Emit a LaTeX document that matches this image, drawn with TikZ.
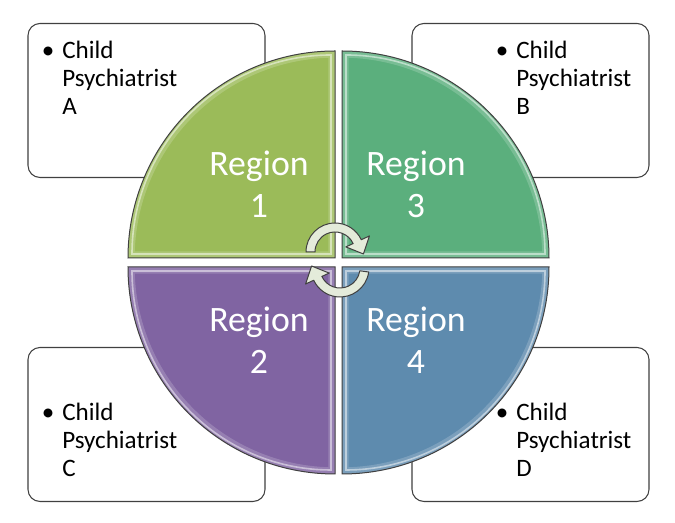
\documentclass[tikz,border=0pt]{standalone}
\usepackage{fontspec}
\setmainfont{Carlito}
\usetikzlibrary{calc}
\definecolor{colive}{HTML}{9BBB59}
\definecolor{cgreen}{HTML}{5BAF7D}
\definecolor{cpurple}{HTML}{8064A2}
\definecolor{cslate}{HTML}{5E8BAE}
\definecolor{cline}{HTML}{404040}
\definecolor{carrow}{HTML}{E4EBDA}

\begin{document}
\begin{tikzpicture}[x=0.75pt, y=0.75pt,
  infobox/.style={draw=cline, line width=0.8pt, fill=white, rounded corners=9pt,
    minimum width=177.75pt, minimum height=115.5pt, inner sep=0pt},
  itemtext/.style={anchor=west, align=left, inner sep=0pt, font=\fontsize{18.8}{21}\selectfont},
  regiontext/.style={align=center, text=white, inner sep=0pt, font=\fontsize{26.8}{31.5}\selectfont},
  cyclearrow/.style={draw=cline, line width=0.75pt, fill=carrow, line join=round}]
  \useasboundingbox (0,0) rectangle (675,523);
  \fill[white] (0,0) rectangle (675,523);

  % Boxes behind the circle
  \node[infobox] (boxA) at (146.5,422.5) {};
  \node[infobox] (boxB) at (530.5,422.5) {};
  \node[infobox] (boxC) at (146.5,98.5) {};
  \node[infobox] (boxD) at (530.5,98.5) {};

  % Quarters of the circle
  \foreach \cx/\cy/\a/\col in {335/265/90/colive, 342/265/0/cgreen, 335/256/180/cpurple, 342/256/270/cslate}{
    \fill[\col] (\cx,\cy) -- +(\a:207) arc[start angle=\a, end angle=\a+90, radius=207] -- cycle;
    \begin{scope}
      \clip (\cx,\cy) -- +(\a:207) arc[start angle=\a, end angle=\a+90, radius=207] -- cycle;
      \draw[white, opacity=0.18, line width=10pt] (\cx,\cy) -- +(\a:207) arc[start angle=\a, end angle=\a+90, radius=207] -- cycle;
    \end{scope}
    \draw[white, opacity=0.5, line width=1.2pt] ($(\cx,\cy)+(\a+45:5.66)$) -- +(\a:199) arc[start angle=\a, end angle=\a+90, radius=199] -- cycle;
    \draw[cline, line width=0.75pt] (\cx,\cy) -- +(\a:207) arc[start angle=\a, end angle=\a+90, radius=207] -- cycle;
  }

  % Labels
  \node[regiontext] (reg1) at (259,339) {Region\\1};
  \node[regiontext] (reg3) at (416,339) {Region\\3};
  \node[regiontext] (reg2) at (259,183) {Region\\2};
  \node[regiontext] (reg4) at (416,183) {Region\\4};

  \node[itemtext] (itemA) at (62,445) {\llap{\textbullet\hspace{6pt}}Child\\Psychiatrist\\A};
  \node[itemtext] (itemB) at (516,445) {\llap{\textbullet\hspace{6pt}}Child\\Psychiatrist\\B};
  \node[itemtext] (itemC) at (62,83) {\llap{\textbullet\hspace{6pt}}Child\\Psychiatrist\\C};
  \node[itemtext] (itemD) at (516,83) {\llap{\textbullet\hspace{6pt}}Child\\Psychiatrist\\D};

  % Cycle arrows in the middle
  \coordinate (topc) at (335,271);
  \coordinate (botc) at (340,255);
  \draw[cyclearrow] ([shift={(180:29)}]topc) arc[start angle=180, end angle=25, radius=29]
    -- ([shift={(25:38)}]topc) -- ([shift={(-4:28.5)}]topc) -- ([shift={(25:12)}]topc)
    -- ([shift={(25:20)}]topc) arc[start angle=25, end angle=180, radius=20] -- cycle;
  \draw[cyclearrow] ([shift={(-8:29)}]botc) arc[start angle=-8, end angle=-155, radius=29]
    -- ([shift={(-155:38)}]botc) -- ([shift={(176:28.5)}]botc) -- ([shift={(-155:12)}]botc)
    -- ([shift={(-155:20)}]botc) arc[start angle=-155, end angle=-8, radius=20] -- cycle;
\end{tikzpicture}
\end{document}
